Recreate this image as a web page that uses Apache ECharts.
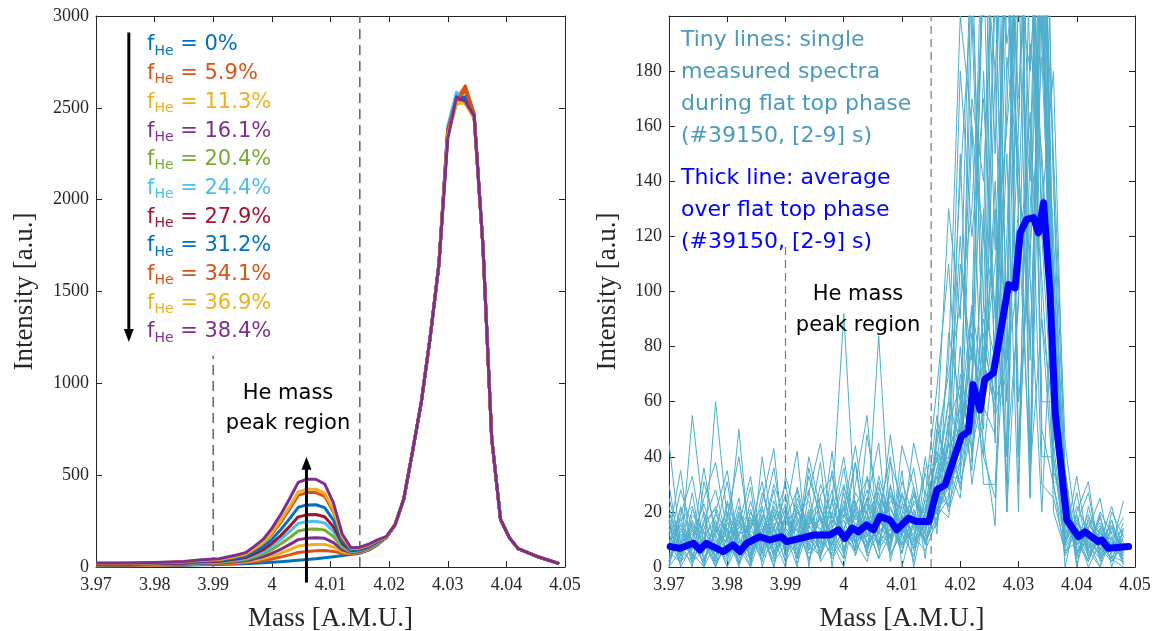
<!DOCTYPE html>
<html><head><meta charset="utf-8">
<script src="https://cdn.jsdelivr.net/npm/echarts@6/dist/echarts.min.js"></script>
<style>html,body{margin:0;padding:0;background:#fff}#c{width:1157px;height:631px}</style>
</head><body><div id="c"></div><script>
// ---------- DATA ----------
const massTicks = [3.97, 3.98, 3.99, 4.00, 4.01, 4.02, 4.03, 4.04, 4.05];
const heRegion = [3.99, 4.015];
const fHeLabels = ['0%', '5.9%', '11.3%', '16.1%', '20.4%', '24.4%', '27.9%', '31.2%', '34.1%', '36.9%', '38.4%'];

// Left panel: spectra for each helium fraction
const massLeft = [3.970, 3.975, 3.980, 3.985, 3.988, 3.991, 3.994, 3.9955, 3.997, 3.9985, 4.000, 4.0015, 4.003, 4.0045, 4.006, 4.0075, 4.009, 4.0105, 4.012, 4.0135, 4.015, 4.0165, 4.018, 4.0195, 4.021, 4.0225, 4.024, 4.0255, 4.027, 4.0285, 4.030, 4.0315, 4.033, 4.0345, 4.036, 4.0375, 4.039, 4.0405, 4.042, 4.045, 4.049];
const spec_f0   = [5,6,8,10,12,14,16,18,20,23,26,29,33,37,41,45,50,56,62,68,75,92,120,160,229,370,630,900,1250,1650,2360,2530,2545,2450,1750,700,260,160,100,60,18];
const spec_f59  = [7,8,10,12,15,17,21,24,29,35,44,54,66,79,84,88,90,85,74,72,78,95,123,160,229,370,630,900,1250,1650,2380,2545,2620,2470,1750,700,260,160,100,60,18];
const spec_f113 = [8,9,11,14,17,20,25,29,37,46,59,75,94,114,120,123,123,109,83,75,81,98,125,160,229,370,630,900,1250,1650,2350,2520,2530,2440,1750,700,260,160,100,60,18];
const spec_f161 = [10,10,13,15,19,22,29,34,44,56,74,96,122,149,156,159,156,133,93,78,84,101,128,160,229,370,630,900,1250,1650,2370,2540,2540,2460,1750,700,260,160,100,60,18];
const spec_f204 = [11,12,14,18,23,26,34,41,54,71,95,125,159,196,205,207,201,166,106,82,88,104,131,160,229,370,630,900,1250,1650,2360,2540,2590,2455,1750,700,260,160,100,60,18];
const spec_f244 = [13,14,16,20,25,28,39,46,63,83,113,150,192,237,247,249,240,194,118,86,91,107,133,160,229,370,630,900,1250,1650,2400,2585,2520,2450,1750,700,260,160,100,60,18];
const spec_f279 = [15,15,18,21,28,31,43,51,71,94,128,171,220,273,284,286,274,219,128,89,94,110,136,160,229,370,630,900,1250,1650,2380,2540,2545,2460,1750,700,260,160,100,60,18];
const spec_f312 = [17,17,20,24,31,35,49,59,82,109,151,203,262,325,338,339,323,255,142,93,98,114,139,160,229,370,630,900,1250,1650,2370,2550,2560,2460,1750,700,260,160,100,60,18];
const spec_f341 = [19,20,22,27,35,40,57,68,96,129,179,242,313,390,405,405,385,300,160,99,103,119,144,160,229,370,630,900,1250,1650,2380,2540,2600,2465,1750,700,260,160,100,60,18];
const spec_f369 = [20,20,23,28,37,41,59,71,100,134,187,253,328,409,424,424,402,313,165,101,104,120,145,160,229,370,630,900,1250,1650,2350,2530,2525,2445,1750,700,260,160,100,60,18];
const spec_f384 = [22,22,25,30,40,45,65,78,112,150,210,285,370,461,478,478,452,349,180,105,108,124,148,165,229,370,630,900,1250,1650,2330,2560,2535,2455,1750,700,260,160,100,60,18];

// Right panel: single measured spectra (tiny lines)
const tinyMass = [3.970,3.972,3.974,3.976,3.978,3.980,3.982,3.984,3.986,3.988,3.990,3.992,3.994,3.996,3.998,4.000,4.002,4.004,4.006,4.008,4.010,4.012,4.014,4.016,4.018,4.020,4.022,4.024,4.026,4.028,4.030,4.032,4.034,4.036,4.038,4.040,4.042,4.044,4.046,4.048];
const tinySpectra = [
 [3,12,5,0,9,14,2,8,18,6,11,4,15,22,7,13,9,25,12,19,8,14,22,35,60,45,200,72,110,160,210,180,250,95,20,8,14,3,9,5],
 [14,4,55,18,2,7,11,0,13,21,5,17,9,12,28,6,19,14,31,10,22,17,9,18,25,70,48,120,95,40,280,240,60,60,12,18,4,11,2,8],
 [45,8,16,3,12,0,9,15,6,24,13,8,21,5,16,30,11,23,8,27,14,9,20,42,30,38,65,40,85,230,60,110,310,140,35,6,10,15,7,12],
 [0,6,2,11,4,19,7,12,3,9,17,28,6,19,4,12,38,7,16,22,11,29,14,20,48,120,55,90,60,75,130,260,90,30,4,14,9,0,11,3],
 [9,17,22,6,15,8,3,20,11,5,14,9,33,18,11,22,8,16,84,13,19,6,25,33,22,80,30,58,48,260,30,150,300,70,22,9,2,13,6,10],
 [5,2,14,9,0,11,18,6,27,14,2,21,12,7,35,9,14,28,12,9,31,18,12,15,40,35,230,60,140,20,220,40,260,45,9,22,13,6,17,4],
 [11,9,4,16,21,3,13,9,14,0,19,6,17,25,10,18,23,5,29,15,8,24,19,28,52,66,42,95,75,165,300,25,200,95,26,4,17,9,3,13],
 [2,14,7,5,60,17,6,24,8,16,9,14,3,11,20,14,7,33,19,21,13,10,27,19,30,40,85,50,210,60,160,280,50,30,10,15,6,20,12,7],
 [18,5,11,23,7,4,20,11,2,19,7,25,14,17,6,24,12,11,22,8,26,14,11,50,35,25,70,220,65,290,40,190,150,80,15,11,19,5,8,14],
 [7,21,3,8,13,9,50,4,19,11,23,3,19,8,13,5,27,19,7,30,12,20,8,22,18,55,95,30,30,120,250,105,20,110,30,7,9,14,4,2],
 [12,3,19,13,6,23,1,17,9,28,4,12,7,30,18,11,16,9,14,11,17,26,15,30,45,30,50,70,220,40,95,270,120,50,18,13,4,10,15,9],
 [4,10,8,2,17,5,12,14,22,3,12,19,24,2,9,17,6,21,25,18,7,15,21,26,28,150,38,85,55,70,320,30,240,20,6,9,16,8,3,11],
 [20,7,13,9,4,14,8,3,13,17,30,7,11,16,22,92,18,12,9,24,21,11,6,17,55,48,70,45,15,185,145,80,210,60,12,17,8,3,9,6],
 [6,16,1,14,22,10,5,18,7,12,6,16,2,21,12,19,10,15,20,4,14,23,18,40,20,35,60,180,70,250,40,130,220,75,24,3,11,16,6,12],
 [10,1,17,7,10,2,19,10,16,4,14,9,18,10,5,14,21,4,13,17,9,12,24,24,38,52,44,62,130,30,210,260,40,40,8,19,5,12,10,4],
 [15,11,6,20,3,16,9,5,21,8,10,20,13,6,19,9,13,25,6,14,18,7,16,33,50,28,58,75,58,210,150,25,300,100,14,10,13,7,2,9],
 [1,13,10,4,8,12,14,21,4,15,2,10,16,14,8,27,4,18,11,7,23,19,10,21,26,45,80,55,180,20,100,155,105,35,20,6,10,4,13,8],
 [8,5,15,12,16,6,4,13,10,7,18,13,5,9,24,7,15,6,17,11,27,15,13,36,40,60,35,130,45,300,125,35,90,55,11,14,7,18,5,16],
 [13,18,2,6,12,20,10,7,17,13,9,5,20,13,3,10,11,20,8,16,5,21,9,18,33,32,160,40,25,100,270,75,225,90,16,8,12,9,11,1],
 [4,9,12,15,1,8,16,11,5,20,15,22,8,4,14,21,9,13,24,5,12,4,20,29,44,50,52,80,62,150,20,235,145,65,25,12,2,14,6,10],
 [16,2,7,10,19,13,1,16,12,2,8,18,10,18,11,3,24,8,15,26,10,16,14,27,22,38,95,65,285,75,105,165,30,25,7,16,9,5,14,7],
 [7,15,10,1,14,4,17,2,15,10,21,1,15,9,17,12,5,16,3,12,16,8,17,20,36,58,62,240,115,230,135,115,185,85,19,5,15,11,8,3],
 [25,9,0,31,14,6,22,3,17,36,8,15,28,4,19,40,13,7,33,18,5,27,12,45,70,95,130,210,260,330,240,280,190,120,30,0,22,6,17,2],
 [0,19,33,8,2,24,11,29,0,14,26,3,36,17,8,21,44,15,3,38,24,9,40,12,85,60,170,140,240,90,310,220,350,40,8,27,3,19,0,14],
 [17,0,8,25,38,12,0,14,31,5,19,42,0,26,33,12,6,48,22,10,35,0,20,55,28,110,75,230,180,270,160,330,240,150,45,12,0,9,22,5],
 [8,28,14,0,20,35,7,0,24,43,2,23,15,38,0,29,17,24,45,2,19,36,8,30,60,140,210,95,300,220,280,140,290,60,0,20,31,2,10,18],
 [30,4,21,12,0,18,40,9,12,0,33,18,6,11,42,3,30,55,8,29,12,45,26,65,110,45,90,260,150,350,200,260,130,180,28,4,14,25,3,0],
 [2,22,9,36,10,0,15,33,5,22,12,0,27,45,14,36,9,2,19,40,0,17,34,15,45,180,120,170,90,240,330,180,260,110,10,33,6,0,20,11],
 [12,35,3,17,28,9,25,1,40,10,0,29,12,3,25,18,38,11,27,6,44,29,3,48,130,90,240,200,270,190,220,310,210,30,35,0,18,12,7,24],
 [22,6,27,2,13,31,4,20,11,30,17,8,40,21,9,0,22,32,12,48,16,2,36,38,75,200,160,120,330,260,170,240,330,140,5,16,27,3,15,1]
];

// Right panel: average over flat top phase (thick line)
const avgMass  = [3.9702,3.9719,3.9742,3.9753,3.9764,3.9793,3.9810,3.9822,3.9833,3.9856,3.9873,3.9893,3.9902,3.9925,3.9948,3.9976,3.9991,4.0002,4.0014,4.0025,4.0039,4.0051,4.0062,4.0079,4.0091,4.0111,4.0125,4.0146,4.0160,4.0174,4.0202,4.0214,4.0222,4.0234,4.0242,4.0257,4.0283,4.0294,4.0303,4.0314,4.0326,4.0334,4.0343,4.0354,4.0363,4.0383,4.0403,4.0414,4.0437,4.0443,4.0454,4.0489];
const avgValue = [7.4,6.8,8.6,6.2,8.6,5.6,8.0,5.6,8.6,11.0,9.8,11.0,9.2,10.4,11.6,11.6,13.5,10.4,14.1,12.8,15.3,13.5,18.3,17.1,13.5,17.7,16.5,16.5,28.0,29.8,47.4,49.2,66.2,57.0,68.0,70.4,102.5,101.3,121.3,126.2,126.8,121.3,132.2,100.0,55.9,17.1,11.0,12.8,9.2,9.8,6.8,7.4];

// ---------- CHART ----------
const chart = echarts.init(document.getElementById('c'), null, {renderer: 'canvas'});
const MATLAB = ['#0072BD','#D95319','#EDB120','#7E2F8E','#77AC30','#4DBEEE','#A2142F'];
const leftSpectra = [spec_f0, spec_f59, spec_f113, spec_f161, spec_f204, spec_f244, spec_f279, spec_f312, spec_f341, spec_f369, spec_f384];
const AX = '#262626';
const SERIF = 'Liberation Serif';
const SANS = 'DejaVu Sans';
const TINY = '#4eaecb';
const pairs = (xs, ys) => xs.map((x, i) => [x, ys[i]]);
const fmtMass = v => String(+(+v).toFixed(2));

function xAx(g, pos, labels) {
  return {
    type: 'value', gridIndex: g, position: pos, min: massTicks[0], max: massTicks[massTicks.length - 1], interval: 0.01,
    axisLine: {show: true, onZero: false, lineStyle: {color: AX, width: 1}},
    axisTick: {show: true, inside: true, length: 6, lineStyle: {color: AX}},
    axisLabel: {show: labels, formatter: fmtMass, color: AX, fontFamily: SERIF, fontSize: 18, margin: 9},
    splitLine: {show: false},
    name: labels ? 'Mass [A.M.U.]' : '', nameLocation: 'middle', nameGap: 38,
    nameTextStyle: {color: AX, fontFamily: SERIF, fontSize: 27}
  };
}
function yAx(g, pos, labels, max, interval) {
  return {
    type: 'value', gridIndex: g, position: pos, min: 0, max: max, interval: interval,
    axisLine: {show: true, onZero: false, lineStyle: {color: AX, width: 1}},
    axisTick: {show: true, inside: true, length: 6, lineStyle: {color: AX}},
    axisLabel: {show: labels, color: AX, fontFamily: SERIF, fontSize: 18, margin: 7,
      formatter: v => (max === 200 && v >= 200) ? '' : String(v)},
    splitLine: {show: false},
    name: labels ? 'Intensity [a.u.]' : '', nameLocation: 'middle', nameGap: g === 0 ? 58 : 48,
    nameTextStyle: {color: AX, fontFamily: SERIF, fontSize: 27}
  };
}

const series = [];
const dashL = {color: '#6a6a6a', width: 1.6, type: [10, 6]};
const dashR = {color: '#777777', width: 1.2, type: [8, 5]};
function vline(xi, yi, x, y1, y2, ls, z) {
  series.push({type: 'line', xAxisIndex: xi, yAxisIndex: yi, data: [[x, y1], [x, y2]], showSymbol: false,
    lineStyle: ls, z: z, silent: true, animation: false});
}
vline(0, 0, heRegion[0], 0, 1150, dashL, 1);
vline(0, 0, heRegion[1], 0, 3000, dashL, 1);
leftSpectra.forEach((ys, i) => {
  series.push({type: 'line', xAxisIndex: 0, yAxisIndex: 0, data: pairs(massLeft, ys), showSymbol: false,
    lineStyle: {color: MATLAB[i % 7], width: 3, join: 'round'}, z: 2 + i * 0.01, animation: false});
});
tinySpectra.forEach(ys => {
  series.push({type: 'line', xAxisIndex: 1, yAxisIndex: 1, data: pairs(tinyMass, ys), showSymbol: false,
    lineStyle: {color: TINY, width: 1}, z: 2, animation: false});
});
vline(1, 1, heRegion[0], 0, 118, dashR, 3);
vline(1, 1, heRegion[1], 0, 200, dashR, 3);
series.push({type: 'line', xAxisIndex: 1, yAxisIndex: 1, data: pairs(avgMass, avgValue), showSymbol: false,
  lineStyle: {color: '#0000ff', width: 7, join: 'round', cap: 'round'}, z: 4, animation: false});

chart.setOption({
  animation: false,
  backgroundColor: '#ffffff',
  grid: [
    {left: 96, right: 592, top: 16, bottom: 64, outerBoundsMode: 'none', containLabel: false},
    {left: 669, right: 22, top: 16, bottom: 64, outerBoundsMode: 'none', containLabel: false}
  ],
  xAxis: [xAx(0, 'bottom', true), xAx(1, 'bottom', true), xAx(0, 'top', false), xAx(1, 'top', false)],
  yAxis: [yAx(0, 'left', true, 3000, 500), yAx(1, 'left', true, 200, 20), yAx(0, 'right', false, 3000, 500), yAx(1, 'right', false, 200, 20)],
  series: series
});

// ---------- ANNOTATIONS ----------
const px = (g, x, y) => chart.convertToPixel({gridIndex: g}, [x, y]);
function arrow(g, x, yTail, yTip) {
  const a = px(g, x, yTail), b = px(g, x, yTip);
  const dir = Math.sign(b[1] - a[1]);
  return [
    {type: 'line', shape: {x1: a[0], y1: a[1], x2: b[0], y2: b[1] - dir * 9}, style: {stroke: '#000', lineWidth: 3}, z: 100},
    {type: 'polygon', shape: {points: [[b[0] - 5, b[1] - dir * 13], [b[0] + 5, b[1] - dir * 13], [b[0], b[1]]]}, style: {fill: '#000'}, z: 100}
  ];
}
const graphics = [];
graphics.push(...arrow(0, 3.9756, 2910, 1225));
graphics.push(...arrow(0, 4.0059, -85, 600));
fHeLabels.forEach((lab, i) => {
  const col = MATLAB[i % 7];
  graphics.push({type: 'text', x: 147, y: 45 + 28.7 * i, z: 100,
    style: {text: '{f|f}{s|He}{f| = ' + lab + '}', verticalAlign: 'middle', textVerticalAlign: 'middle',
      rich: {f: {fontSize: 21, fontFamily: SANS, fill: col, lineHeight: 26},
             s: {fontSize: 14, fontFamily: SANS, fill: col, lineHeight: 14, verticalAlign: 'bottom'}}}});
});
graphics.push({type: 'text', x: 288, y: 379, z: 100, style: {text: 'He mass\npeak region', align: 'center', textAlign: 'center',
  verticalAlign: 'top', textVerticalAlign: 'top', fontSize: 21, fontFamily: SANS, fill: '#000', lineHeight: 30}});
graphics.push({type: 'text', x: 858, y: 279, z: 100, style: {text: 'He mass\npeak region', align: 'center', textAlign: 'center',
  verticalAlign: 'top', textVerticalAlign: 'top', fontSize: 21, fontFamily: SANS, fill: '#000', lineHeight: 31}});
graphics.push({type: 'text', x: 681, y: 24, z: 100, style: {text: 'Tiny lines: single\nmeasured spectra\nduring flat top phase\n(#39150, [2-9] s)',
  verticalAlign: 'top', textVerticalAlign: 'top', fontSize: 22, fontFamily: SANS, fill: '#4a9bba', lineHeight: 32}});
graphics.push({type: 'text', x: 681, y: 162, z: 100, style: {text: 'Thick line: average\nover flat top phase\n(#39150, [2-9] s)',
  verticalAlign: 'top', textVerticalAlign: 'top', fontSize: 22, fontFamily: SANS, fill: '#0000ff', lineHeight: 32}});
chart.setOption({graphic: {elements: graphics}});
</script></body></html>
